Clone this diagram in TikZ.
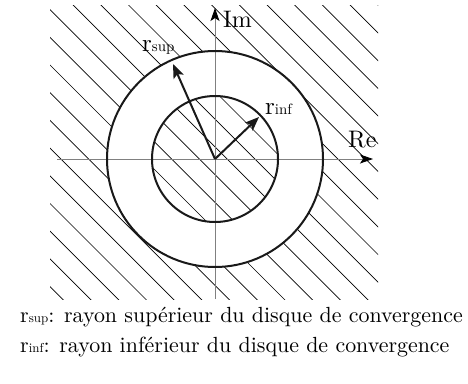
\documentclass[tikz,border=0pt]{standalone}
\usepackage{fontspec}
\setmainfont{lmroman10-regular.otf}
\usetikzlibrary{arrows.meta}
\begin{document}
\begin{tikzpicture}[x=1bp,y=1bp,
  hatch/.style={line width=0.7bp, black},
  ring/.style={line width=2bp, black!90},
  axis/.style={line width=0.9bp, black!50, -{Stealth[length=13bp,width=9bp,inset=3bp,black]}},
  radarrow/.style={line width=2bp, black!90, -{Stealth[length=14bp,width=11bp,inset=3bp]}},
  axlab/.style={inner sep=0pt, anchor=base west, font=\fontsize{24}{28}\selectfont},
  rlab/.style={inner sep=0pt, anchor=base west, font=\fontsize{25}{28}\selectfont},
  legend/.style={inner sep=0pt, anchor=base west, font=\fontsize{22}{26}\selectfont}]
\useasboundingbox (0,0) rectangle (468,383);
\coordinate (O) at (215,224);
% hatching
\begin{scope}
  \clip (50,84) rectangle (378,377);
  \foreach \k in {-15,...,11} {
    \draw[hatch] ({395.7-27.7*\k-420},420) -- ({395.7-27.7*\k+20},-20);
  }
\end{scope}
% clear the annulus
\fill[white, even odd rule] (O) circle[radius=108] (O) circle[radius=63];
% axes
\coordinate (xl) at (57,224);
\coordinate (xr) at (373,224);
\coordinate (yb) at (215,84);
\coordinate (yt) at (215,375);
\draw[axis] (xl) -- (xr);
\draw[axis] (yb) -- (yt);
% circles
\draw[ring] (O) circle[radius=108];
\draw[ring] (O) circle[radius=63];
% radius arrows
\coordinate (Rs) at (173,319);
\coordinate (Ri) at (259,266);
\draw[radarrow] (O) -- (Rs);
\draw[radarrow] (O) -- (Ri);
% labels
\node[axlab] (im) at (223,356) {Im};
\node[axlab] (re) at (348,236) {Re};
\node[rlab] (rsup) at (142,332) {r{\fontsize{15}{17}\selectfont sup}};
\node[rlab] (rinf) at (265,269) {r{\fontsize{15}{17}\selectfont inf}};
% legend
\node[legend] (l1) at (20,61) {r{\fontsize{13}{15}\selectfont sup}: rayon supérieur du disque de convergence};
\node[legend] (l2) at (20,31) {r{\fontsize{13}{15}\selectfont inf}: rayon inférieur du disque de convergence};
\end{tikzpicture}
\end{document}
